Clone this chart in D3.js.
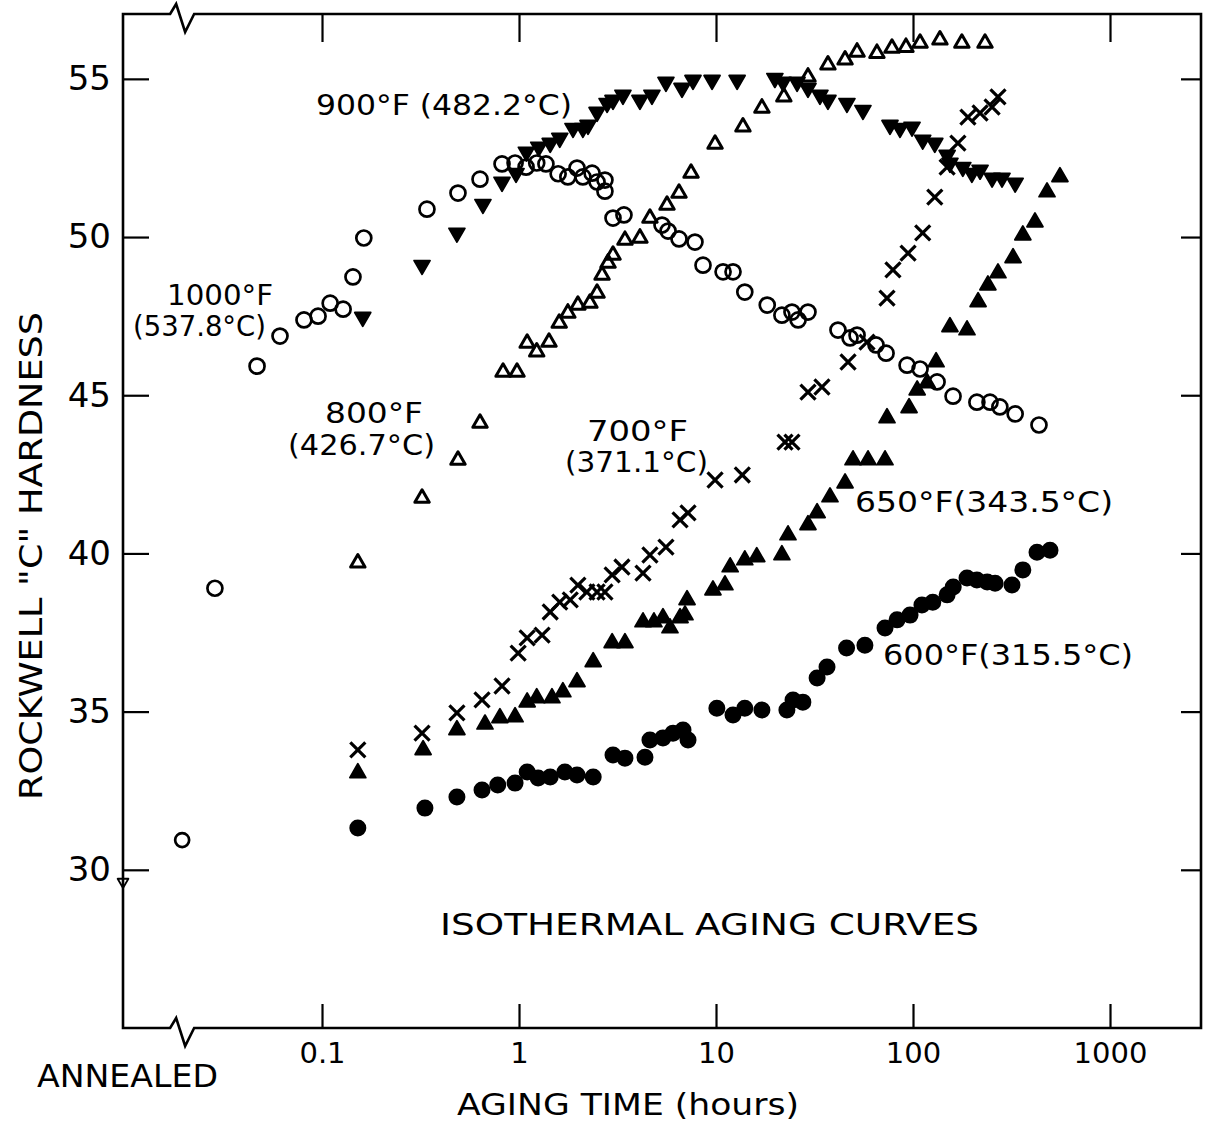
<!DOCTYPE html>
<html><head><meta charset="utf-8">
<script src="https://cdn.jsdelivr.net/npm/d3@7"></script>
<style>
body{margin:0;background:#fff}
svg{display:block}
text{font-family:"DejaVu Sans",sans-serif;fill:#000}
</style>
</head><body>
<svg id="c" width="1210" height="1126"></svg>
<script>
// ---------- DATA (aging time in hours, Rockwell C hardness) ----------
const xTickValues = [0.1, 1, 10, 100, 1000];
const xTickLabels = ["0.1", "1", "10", "100", "1000"];
const yTickValues = [30, 35, 40, 45, 50, 55];
const annealedT = 0.0195;          // plotting position of the "annealed" state
const annealed1000 = [[annealedT, 30.94]];
const annealed900 = [[0.00977, 29.62]];

const s1000 = [[0.0286,38.9],[0.0468,45.92],[0.0612,46.87],[0.081,47.38],[0.0955,47.50],[0.110,47.91],[0.128,47.72],[0.1436,48.74],[0.163,49.97],[0.341,50.88],[0.490,51.39],[0.634,51.83],[0.82,52.31],[0.955,52.34],[1.086,52.21],[1.23,52.34],[1.37,52.31],[1.58,52.0],[1.77,51.9],[1.97,52.18],[2.11,51.9],[2.35,52.02],[2.49,51.74],[2.73,51.8],[2.73,51.45],[3.0,50.6],[3.41,50.7],[5.32,50.38],[5.71,50.19],[6.49,49.94],[7.82,49.84],[8.59,49.11],[10.86,48.9],[12.2,48.9],[14.0,48.26],[18.2,47.85],[21.6,47.53],[24.3,47.63],[26.1,47.38],[29.3,47.63],[41.6,47.06],[47.9,46.81],[52.0,46.90],[64.9,46.59],[73.0,46.33],[93.3,45.95],[108.6,45.83],[132.5,45.42],[159.7,44.97],[211,44.78],[246,44.78],[276,44.63],[330,44.41],[436,44.06]];

const s900 = [[0.161,47.47],[0.322,49.11],[0.484,50.13],[0.656,51.04],[0.82,51.74],[0.966,52.02],[1.09,52.69],[1.26,52.85],[1.44,52.97],[1.61,53.13],[1.88,53.44],[2.11,53.44],[2.24,53.54],[2.49,53.95],[2.80,54.23],[3.0,54.33],[3.37,54.49],[4.11,54.33],[4.73,54.49],[5.57,54.9],[6.72,54.71],[7.64,54.96],[9.55,54.96],[12.8,54.96],[19.9,55.02],[21.9,54.90],[25.8,54.90],[29.3,54.71],[33.7,54.49],[37.0,54.33],[46.2,54.23],[55.7,54.01],[76.4,53.54],[85.9,53.44],[98.9,53.48],[112,53.07],[129,52.97],[149,52.59],[154,52.34],[179,52.21],[199,52.02],[219,52.12],[252,51.87],[283,51.87],[330,51.71]];

const s800 = [[0.152,39.70],[0.322,41.75],[0.490,42.95],[0.634,44.12],[0.83,45.73],[0.977,45.73],[1.10,46.65],[1.23,46.37],[1.42,46.68],[1.60,47.28],[1.77,47.60],[1.99,47.85],[2.29,47.91],[2.49,48.23],[2.64,48.80],[2.83,49.18],[3.0,49.43],[3.45,49.9],[4.11,49.97],[4.62,50.6],[5.64,51.01],[6.49,51.39],[7.47,52.02],[9.89,52.94],[13.7,53.48],[17.1,54.08],[22.1,54.43],[29.3,55.06],[37.0,55.44],[45.2,55.6],[52,55.85],[65.6,55.81],[78.2,55.97],[92.1,56.0],[108.6,56.13],[137,56.23],[177,56.13],[232,56.13]];

const s700 = [[0.152,33.79],[0.322,34.32],[0.484,34.96],[0.649,35.37],[0.82,35.81],[0.99,36.85],[1.10,37.33],[1.31,37.42],[1.44,38.15],[1.61,38.46],[1.82,38.53],[1.99,39.0],[2.21,38.78],[2.49,38.78],[2.73,38.78],[2.97,39.32],[3.33,39.57],[4.26,39.38],[4.62,39.95],[5.57,40.2],[6.57,41.06],[7.21,41.28],[9.89,42.32],[13.6,42.48],[22.4,43.52],[24.3,43.52],[29.3,45.1],[34.5,45.26],[46.8,46.05],[58.4,46.68],[73.8,48.07],[79.1,48.96],[94.4,49.49],[112,50.13],[129,51.26],[149,52.21],[169,52.97],[190,53.79],[219,53.92],[252,54.11],[270,54.43]];

const s650 = [[0.152,33.06],[0.326,33.79],[0.484,34.42],[0.672,34.6],[0.80,34.8],[0.955,34.83],[1.10,35.3],[1.23,35.43],[1.47,35.43],[1.67,35.62],[1.97,35.94],[2.38,36.57],[2.97,37.17],[3.45,37.17],[4.26,37.83],[4.84,37.83],[5.38,37.96],[5.84,37.64],[6.57,37.96],[6.96,38.05],[7.13,38.53],[9.65,38.84],[11.1,39.0],[11.8,39.57],[14.0,39.79],[16.1,39.89],[21.6,39.95],[23.2,40.58],[29.3,40.9],[32.6,41.28],[37.9,41.78],[45.2,42.22],[49.6,42.95],[59.1,42.95],[72.1,42.95],[73.8,44.28],[95.5,44.6],[105,45.16],[118,45.39],[131,46.05],[154,47.16],[188,47.06],[214,47.95],[240,48.48],[270,48.86],[322,49.34],[361,50.06],[416,50.47],[479,51.42],[557,51.9]];

const s600 = [[0.152,31.32],[0.333,31.95],[0.484,32.30],[0.649,32.52],[0.78,32.68],[0.955,32.74],[1.10,33.09],[1.25,32.9],[1.44,32.93],[1.71,33.09],[1.97,33.0],[2.38,32.93],[3.0,33.63],[3.45,33.53],[4.36,33.56],[4.62,34.1],[5.38,34.17],[6.05,34.32],[6.8,34.42],[7.21,34.1],[10.1,35.11],[12.2,34.89],[14.0,35.11],[17.1,35.05],[22.9,35.05],[24.6,35.37],[27.6,35.3],[32.6,36.06],[36.6,36.41],[46,37.01],[57,37.1],[72.1,37.64],[83,37.9],[96.6,38.05],[111,38.37],[126,38.46],[149,38.69],[160,38.94],[188,39.22],[211,39.16],[238,39.1],[261,39.06],[318,39.0],[361,39.48],[426,40.04],[496,40.1]];

// ---------- LAYOUT ----------
const L = 123, R = 1201, T = 14, B = 1028;
const svg = d3.select("#c");
const x = d3.scaleLog().domain([Math.pow(10, -2.0102), Math.pow(10, 3.4619)]).range([L, R]);
const y = d3.scaleLinear().domain([25, 57.05]).range([B, T]);

// ticks
const gl = svg.append("g").attr("transform", `translate(${L},0)`)
  .call(d3.axisLeft(y).tickValues(yTickValues).tickSizeInner(-26).tickSizeOuter(0).tickPadding(12).tickFormat(d3.format("d")));
const gr = svg.append("g").attr("transform", `translate(${R},0)`)
  .call(d3.axisRight(y).tickValues(yTickValues).tickSizeInner(-20).tickSizeOuter(0).tickFormat(""));
const gt = svg.append("g").attr("transform", `translate(0,${T})`)
  .call(d3.axisTop(x).tickValues(xTickValues).tickSizeInner(-28).tickSizeOuter(0).tickFormat(""));
const gb = svg.append("g").attr("transform", `translate(0,${B})`)
  .call(d3.axisBottom(x).tickValues(xTickValues).tickSizeInner(-24).tickSizeOuter(0).tickPadding(14)
    .tickFormat((d, i) => xTickLabels[i]));
[gl, gr, gt, gb].forEach(g => {
  g.select(".domain").remove();
  g.selectAll(".tick line").attr("stroke", "#000").attr("stroke-width", 2.2);
  g.attr("font-family", null).attr("font-size", null);
});
gl.selectAll(".tick text").style("font-size", "34px");
gb.selectAll(".tick text").style("font-size", "29px");

// frame with axis breaks
const bx = x(annealedT);
const frame = d3.path();
frame.moveTo(L, T); frame.lineTo(bx - 12, T); frame.lineTo(bx - 6, T - 10); frame.lineTo(bx + 3, T + 18); frame.lineTo(bx + 12, T); frame.lineTo(R, T);
frame.lineTo(R, B);
frame.lineTo(bx + 12, B); frame.lineTo(bx + 3, B + 18); frame.lineTo(bx - 6, B - 10); frame.lineTo(bx - 12, B); frame.lineTo(L, B);
frame.closePath();
svg.append("path").attr("d", frame.toString()).attr("fill", "none").attr("stroke", "#000").attr("stroke-width", 2.6).attr("stroke-linejoin", "miter");

// ---------- MARKERS ----------
const plot = svg.append("g");
function drawCircles(data, filled, r, sw) {
  plot.append("g").selectAll("circle").data(data).join("circle")
    .attr("cx", d => x(d[0])).attr("cy", d => y(d[1])).attr("r", r)
    .attr("fill", filled ? "#000" : "none").attr("stroke", "#000").attr("stroke-width", sw);
}
function drawSymbol(data, type, size, filled, rot, sw) {
  const sym = d3.symbol().type(type).size(size);
  plot.append("g").selectAll("path").data(data).join("path")
    .attr("d", sym)
    .attr("transform", d => `translate(${x(d[0])},${y(d[1])}) rotate(${rot})`)
    .attr("fill", filled ? "#000" : "none").attr("stroke", "#000").attr("stroke-width", sw)
    .attr("stroke-linejoin", "round");
}
drawCircles(s600, true, 7.5, 2);
drawSymbol(s650, d3.symbolTriangle, 110, true, 0, 1.8);
drawSymbol(s700, d3.symbolTimes, 150, false, 0, 3.2);
drawSymbol(s800, d3.symbolTriangle, 90, false, 0, 3);
drawSymbol(s900, d3.symbolTriangle, 110, true, 180, 1.8);
drawCircles(s1000, false, 7.5, 2.7);
drawCircles(annealed1000, false, 7, 2.7);
drawSymbol(annealed900, d3.symbolTriangle, 50, false, 180, 1.8);

// ---------- TEXT ----------
function label(txt, xx, yy, w, fs) {
  svg.append("text").attr("x", xx).attr("y", yy).attr("font-size", fs)
    .attr("textLength", w).attr("lengthAdjust", "spacingAndGlyphs").text(txt);
}
label("900°F (482.2°C)", 316, 115, 256, 28);
label("1000°F", 167, 305, 106, 28);
label("(537.8°C)", 133, 336, 133, 28);
label("800°F", 325, 423, 98, 28);
label("(426.7°C)", 288, 455, 147, 28);
label("700°F", 587, 441, 101, 28);
label("(371.1°C)", 565, 472, 143, 28);
label("650°F(343.5°C)", 855, 512, 258, 29);
label("600°F(315.5°C)", 883, 665, 250, 29);
label("ISOTHERMAL AGING CURVES", 440, 935, 539, 31);
label("ANNEALED", 37, 1087, 181, 32);
label("AGING TIME (hours)", 457, 1115, 342, 31);

svg.append("text")
  .attr("transform", "translate(42,800) rotate(-90)")
  .attr("font-size", 32).attr("textLength", 488).attr("lengthAdjust", "spacingAndGlyphs")
  .text('ROCKWELL "C" HARDNESS');
</script>
</body></html>
